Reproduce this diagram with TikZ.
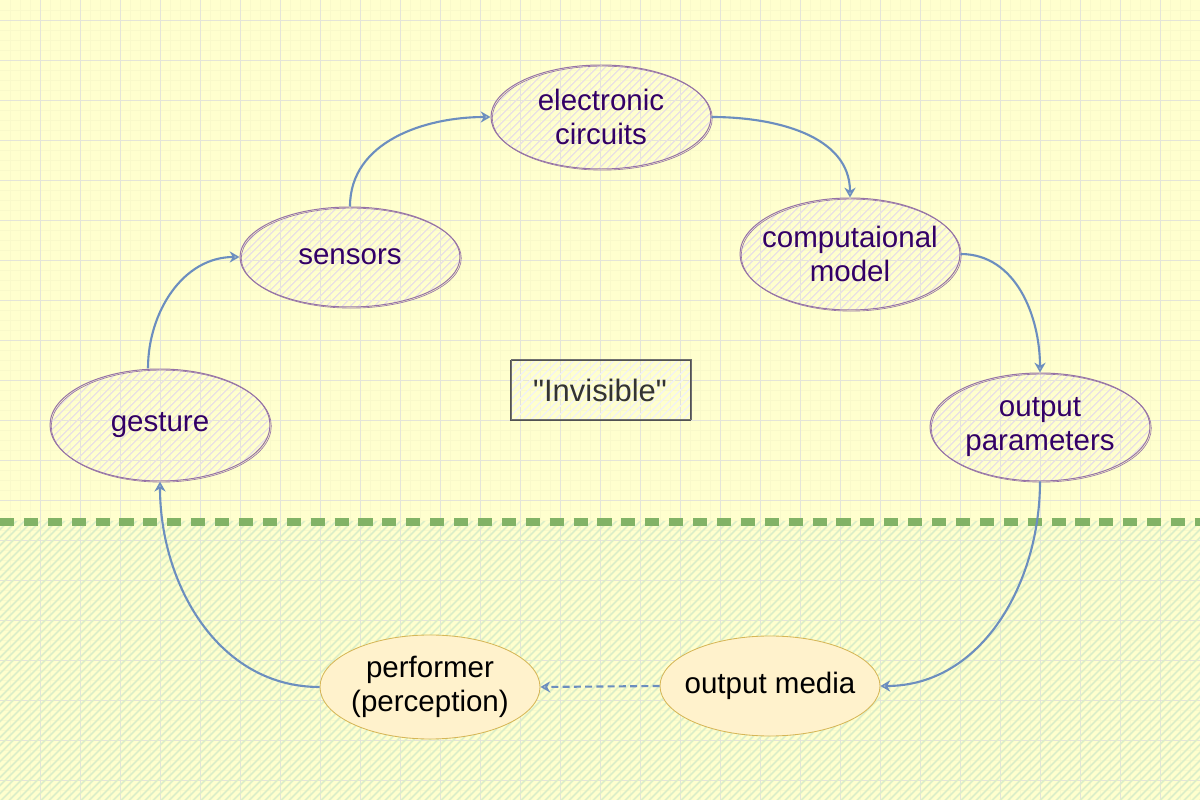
\documentclass[tikz,border=0pt]{standalone}
\usepackage{fontspec}
\setmainfont{Liberation Sans}
\usepackage{xcolor}
\usepackage{tikz}
\usetikzlibrary{shapes.geometric, arrows.meta, positioning, patterns.meta}
\definecolor{paperyellow}{RGB}{255,255,206}
\definecolor{gridmajor}{RGB}{228,228,216}
\definecolor{gridminor}{RGB}{249,249,202}
\definecolor{groundgreen}{RGB}{220,238,200}
\definecolor{borderline}{RGB}{130,179,102}
\definecolor{stagepurple}{RGB}{150,115,166}
\definecolor{stagehatch}{RGB}{234,226,226}
\definecolor{stageink}{RGB}{51,0,102}
\definecolor{flowblue}{RGB}{108,142,191}
\definecolor{mediafill}{RGB}{255,242,204}
\definecolor{mediadraw}{RGB}{214,182,86}
\definecolor{boxink}{RGB}{51,51,51}

\begin{document}
\begin{tikzpicture}[x=0.25mm, y=0.25mm,
    stage/.style={ellipse, draw=stagepurple, line width=0.7pt, minimum width=55mm,
                  minimum height=25mm, pattern={Lines[angle=45, distance=4pt, line width=1pt]},
                  pattern color=stagehatch,
                  postaction={draw=stagepurple, line width=0.45pt,
                              transform canvas={xshift=0.9pt, yshift=-0.8pt}}},
    stagelabel/.style={text=stageink, font=\fontsize{21}{24}\selectfont, align=center},
    media/.style={ellipse, draw=mediadraw, fill=mediafill, line width=0.6pt,
                  minimum width=55mm, minimum height=26mm},
    medialabel/.style={font=\fontsize{21}{24}\selectfont, align=center},
    invisbox/.style={draw=boxink!85, line width=0.7pt, minimum width=45mm, minimum height=15mm,
                     text=boxink, font=\fontsize{22}{26}\selectfont,
                     pattern={Lines[angle=45, distance=4pt, line width=1pt]}, pattern color=black!5,
                     postaction={draw=boxink!70, line width=0.4pt,
                                 transform canvas={xshift=0.7pt, yshift=0.8pt}}},
    flow/.style={draw=flowblue, line width=1.5pt, -{Stealth[open, length=7pt, width=8pt]}}
]
    % paper and grid
    \useasboundingbox (0,0) rectangle (1200,800);
    \fill[paperyellow] (0,0) rectangle (1200,800);
    \foreach \g in {10,20,...,1190} \draw[gridminor, line width=0.4pt] (\g,0) -- (\g,800);
    \foreach \g in {10,20,...,790} \draw[gridminor, line width=0.4pt] (0,\g) -- (1200,\g);
    \foreach \g in {40,80,...,1160} \draw[gridmajor, line width=0.6pt] (\g,0) -- (\g,800);
    \foreach \g in {20,60,...,780} \draw[gridmajor, line width=0.6pt] (0,\g) -- (1200,\g);

    % visible ground and its border
    \fill[pattern={Lines[angle=45, distance=4pt, line width=1.4pt]}, pattern color=groundgreen]
        (0,0) rectangle (1200,278);
    \draw[borderline, line width=5pt, dash pattern=on 10pt off 7pt] (0,278) -- (1200,278);

    \node[stage, minimum height=28mm, label={[stagelabel]center:gesture}] (gesture) at (160,375) {};
    \node[stage, label={[stagelabel]center:sensors}] (sensors) at (350,543) {};
    \node[stage, minimum height=26mm, label={[stagelabel]center:{electronic\\circuits}}] (elec) at (601,683) {};
    \node[stage, minimum height=28mm, label={[stagelabel]center:{computaional\\model}}] (comp) at (850,546) {};
    \node[stage, minimum height=27mm, label={[stagelabel]center:{output\\parameters}}] (params) at (1040,373) {};
    \node[media, minimum height=25mm, label={[medialabel]center:output media}] (media) at (770,114) {};
    \node[media, label={[medialabel]center:{performer\\(perception)}}] (perf) at (430,113) {};
    \node[invisbox] (invisible) at (600,410) {\textquotedbl Invisible\textquotedbl};

    \draw[flow] ([xshift=-3mm]gesture.north) to[out=90, in=180] (sensors.west);
    \draw[flow] (sensors.north) to[out=90, in=180] (elec.west);
    \draw[flow] (elec.east) to[out=0, in=90] (comp.north);
    \draw[flow] (comp.east) to[out=0, in=90] (params.north);
    \draw[flow] (params.south) to[out=-90, in=0] (media.east);
    \draw[flow, dash pattern=on 5pt off 3pt] (media.west) -- (perf.east);
    \draw[flow] (perf.west) to[out=180, in=-90] (gesture.south);
\end{tikzpicture}
\end{document}
